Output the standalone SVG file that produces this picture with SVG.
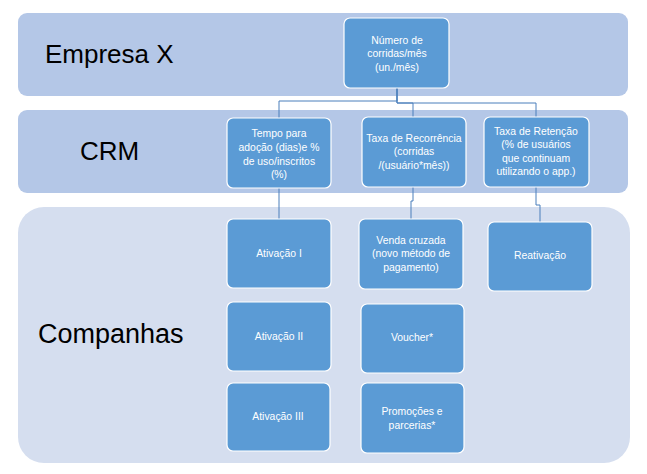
<svg xmlns="http://www.w3.org/2000/svg" width="647" height="474" viewBox="0 0 647 474">
<style>
.band{fill:#b4c7e7}
.band2{fill:#d5deef}
.node rect{fill:#5b9bd5;stroke:#ffffff;stroke-width:1.2}
.node text{fill:#ffffff;font-family:"Liberation Sans",Arial,sans-serif;font-size:10.4px;text-anchor:middle}
.lbl{fill:#000000;font-family:"Liberation Sans",Arial,sans-serif;font-size:26px}
.conn path{fill:none;stroke:#4a7ebb;stroke-width:1}
</style>
<rect width="647" height="474" fill="#ffffff"/>
<g id="band-empresa"><rect class="band" x="18" y="13" width="610" height="83" rx="9"/><text class="lbl" x="45" y="63">Empresa X</text></g>
<g id="band-crm"><rect class="band" x="18" y="110" width="610" height="83" rx="9"/><text class="lbl" x="80" y="160">CRM</text></g>
<g id="band-companhas"><rect class="band2" x="18" y="207" width="612" height="256" rx="26"/><text class="lbl" x="38" y="343" style="font-size:27px">Companhas</text></g>
<g class="conn" id="connectors">
<path d="M397 88 V101 H279 V118"/>
<path d="M397 88 V103 H413 V117"/>
<path d="M397 88 V103 H536 V117"/>
<path d="M279 188 V219"/>
<path d="M413 187 V201 H411 V219"/>
<path d="M536 187 V205 H540 V222"/>
</g>
<g class="node" id="n-numero"><rect x="344" y="18" width="105" height="70" rx="6"/><text x="397" y="43.5">Número de</text><text x="397" y="57">corridas/mês</text><text x="397" y="70.5">(un./mês)</text></g>
<g class="node" id="n-tempo"><rect x="227" y="118" width="104" height="70" rx="6"/><text x="279" y="137">Tempo para</text><text x="279" y="151">adoção (dias)e %</text><text x="279" y="164.5">de uso/inscritos</text><text x="279" y="178">(%)</text></g>
<g class="node" id="n-recorrencia"><rect x="362" y="117" width="104" height="70" rx="6"/><text x="414" y="141.5">Taxa de Recorrência</text><text x="414" y="155">(corridas</text><text x="414" y="168.5">/(usuário*mês))</text></g>
<g class="node" id="n-retencao"><rect x="484" y="117" width="105" height="70" rx="6"/><text x="536" y="134.5">Taxa de Retenção</text><text x="536" y="148">(% de usuários</text><text x="536" y="161.5">que continuam</text><text x="536" y="175">utilizando o app.)</text></g>
<g class="node" id="n-ativ1"><rect x="227" y="219" width="104" height="69" rx="6"/><text x="279" y="256.5">Ativação I</text></g>
<g class="node" id="n-venda"><rect x="359" y="219" width="104" height="70" rx="6"/><text x="411" y="243.5">Venda cruzada</text><text x="411" y="257">(novo método de</text><text x="411" y="270.5">pagamento)</text></g>
<g class="node" id="n-reativ"><rect x="488" y="222" width="104" height="69" rx="6"/><text x="540" y="258.5">Reativação</text></g>
<g class="node" id="n-ativ2"><rect x="227" y="302" width="104" height="69" rx="6"/><text x="279" y="339.5">Ativação II</text></g>
<g class="node" id="n-voucher"><rect x="361" y="304" width="103" height="69" rx="6"/><text x="412" y="340.5">Voucher*</text></g>
<g class="node" id="n-ativ3"><rect x="227" y="383" width="103" height="68" rx="6"/><text x="278" y="419.5">Ativação III</text></g>
<g class="node" id="n-promo"><rect x="361" y="383" width="103" height="70" rx="6"/><text x="412" y="414.5">Promoções e</text><text x="412" y="428.5">parcerias*</text></g>
</svg>
